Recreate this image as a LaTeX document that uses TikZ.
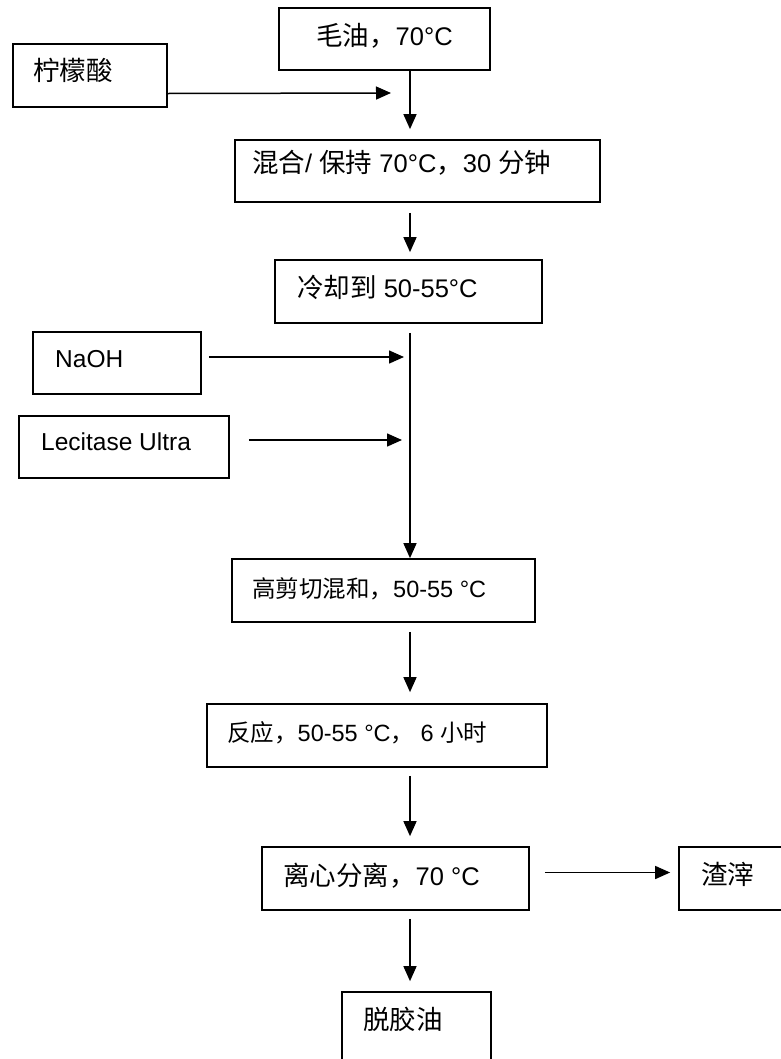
\documentclass[tikz,border=0pt]{standalone}
\usepackage{fontspec}
\setmainfont{Liberation Sans}
\newfontfamily\cjkfam{Noto Sans CJK SC}
\newcommand\cjk{\cjkfam\fontsize{26.5bp}{30bp}\selectfont}
\newcommand\cjks{\cjkfam\fontsize{23.5bp}{28bp}\selectfont}
\usetikzlibrary{arrows.meta,fit,calc}
\tikzset{
  box/.style={draw, line width=1.7bp, inner sep=0pt, rectangle},
  txt/.style={anchor=base west, inner sep=0pt, font=\fontsize{25.5bp}{30bp}\selectfont},
  txts/.style={anchor=base west, inner sep=0pt, font=\fontsize{23.5bp}{28bp}\selectfont},
  arr/.style={line width=1.5bp, -{Triangle[length=15bp,width=13bp]}}
}
\begin{document}
\begin{tikzpicture}[x=1bp,y=-1bp]
\path[use as bounding box] (0,0) rectangle (781,1059);
\clip (0,0) rectangle (781,1059);
\coordinate (ax) at (410,0);
% boxes
\node[box, fit={(279,8) (490,70)}] (n1) {};
\node[box, fit={(13,44) (167,107)}] (c) {};
\node[box, fit={(235,140) (600,202)}] (n2) {};
\node[box, fit={(275,260) (542,323)}] (n3) {};
\node[box, fit={(33,332) (201,394)}] (naoh) {};
\node[box, fit={(19,416) (229,478)}] (lec) {};
\node[box, fit={(232,559) (535,622)}] (n4) {};
\node[box, fit={(207,704) (547,767)}] (n5) {};
\node[box, fit={(262,847) (529,910)}] (n6) {};
\node[box, fit={(679,847) (820,910)}] (w) {};
\node[box, fit={(342,992) (491,1090)}] (n7) {};
% texts
\node[txt] (t1) at (316,45) {{\cjk 毛油，}70°C};
\node[txt] (tc) at (33,80) {\cjk 柠檬酸};
\node[txt] (t2) at (252,172) {{\cjk 混合}/ {\cjk 保持} 70°C{\cjk ，}30 {\cjk 分钟}};
\node[txt] (t3) at (297,297) {{\cjk 冷却到} 50-55°C};
\node[txt, font=\fontsize{24.5bp}{30bp}\selectfont] (tn) at (55,367) {NaOH};
\node[txt, font=\fontsize{24.5bp}{30bp}\selectfont] (tl) at (41,450) {Lecitase Ultra};
\node[txts] (t4) at (252,597) {{\cjks 高剪切混和，}50-55 °C};
\node[txts] (t5) at (227,741) {{\cjks 反应，}50-55 °C{\cjks ，} 6 {\cjks 小时}};
\node[txt] (t6) at (283,885) {{\cjk 离心分离，}70 °C};
\node[txt] (tw) at (701,884) {\cjk 渣滓};
\node[txt] (t7) at (363,1029) {\cjk 脱胶油};
% free ends
\coordinate (e1) at (391,93);
\coordinate (e2) at (404,357);
\coordinate (e3) at (402,440);
% connectors
\draw[arr] (n1.south -| ax) -- ($(n2.north -| ax)+(0,-10)$);
\draw[arr] ($(c.east)+(0,18)$) -- (e1);
\draw[arr] ($(n2.south -| ax)+(0,10)$) -- ($(n3.north -| ax)+(0,-7)$);
\draw[arr] ($(n3.south -| ax)+(0,9)$) -- (n4.north -| ax);
\draw[arr] ($(naoh.east)+(7,-6)$) -- (e2);
\draw[arr] ($(lec.east)+(19,-7)$) -- (e3);
\draw[arr] ($(n4.south -| ax)+(0,9)$) -- ($(n5.north -| ax)+(0,-11)$);
\draw[arr] ($(n5.south -| ax)+(0,8)$) -- ($(n6.north -| ax)+(0,-10)$);
\draw[arr] ($(n6.east)+(15,-6)$) -- ($(w.west)+(-8,-6)$);
\draw[arr] ($(n6.south -| ax)+(0,8)$) -- ($(n7.north -| ax)+(0,-10)$);
\end{tikzpicture}
\end{document}
